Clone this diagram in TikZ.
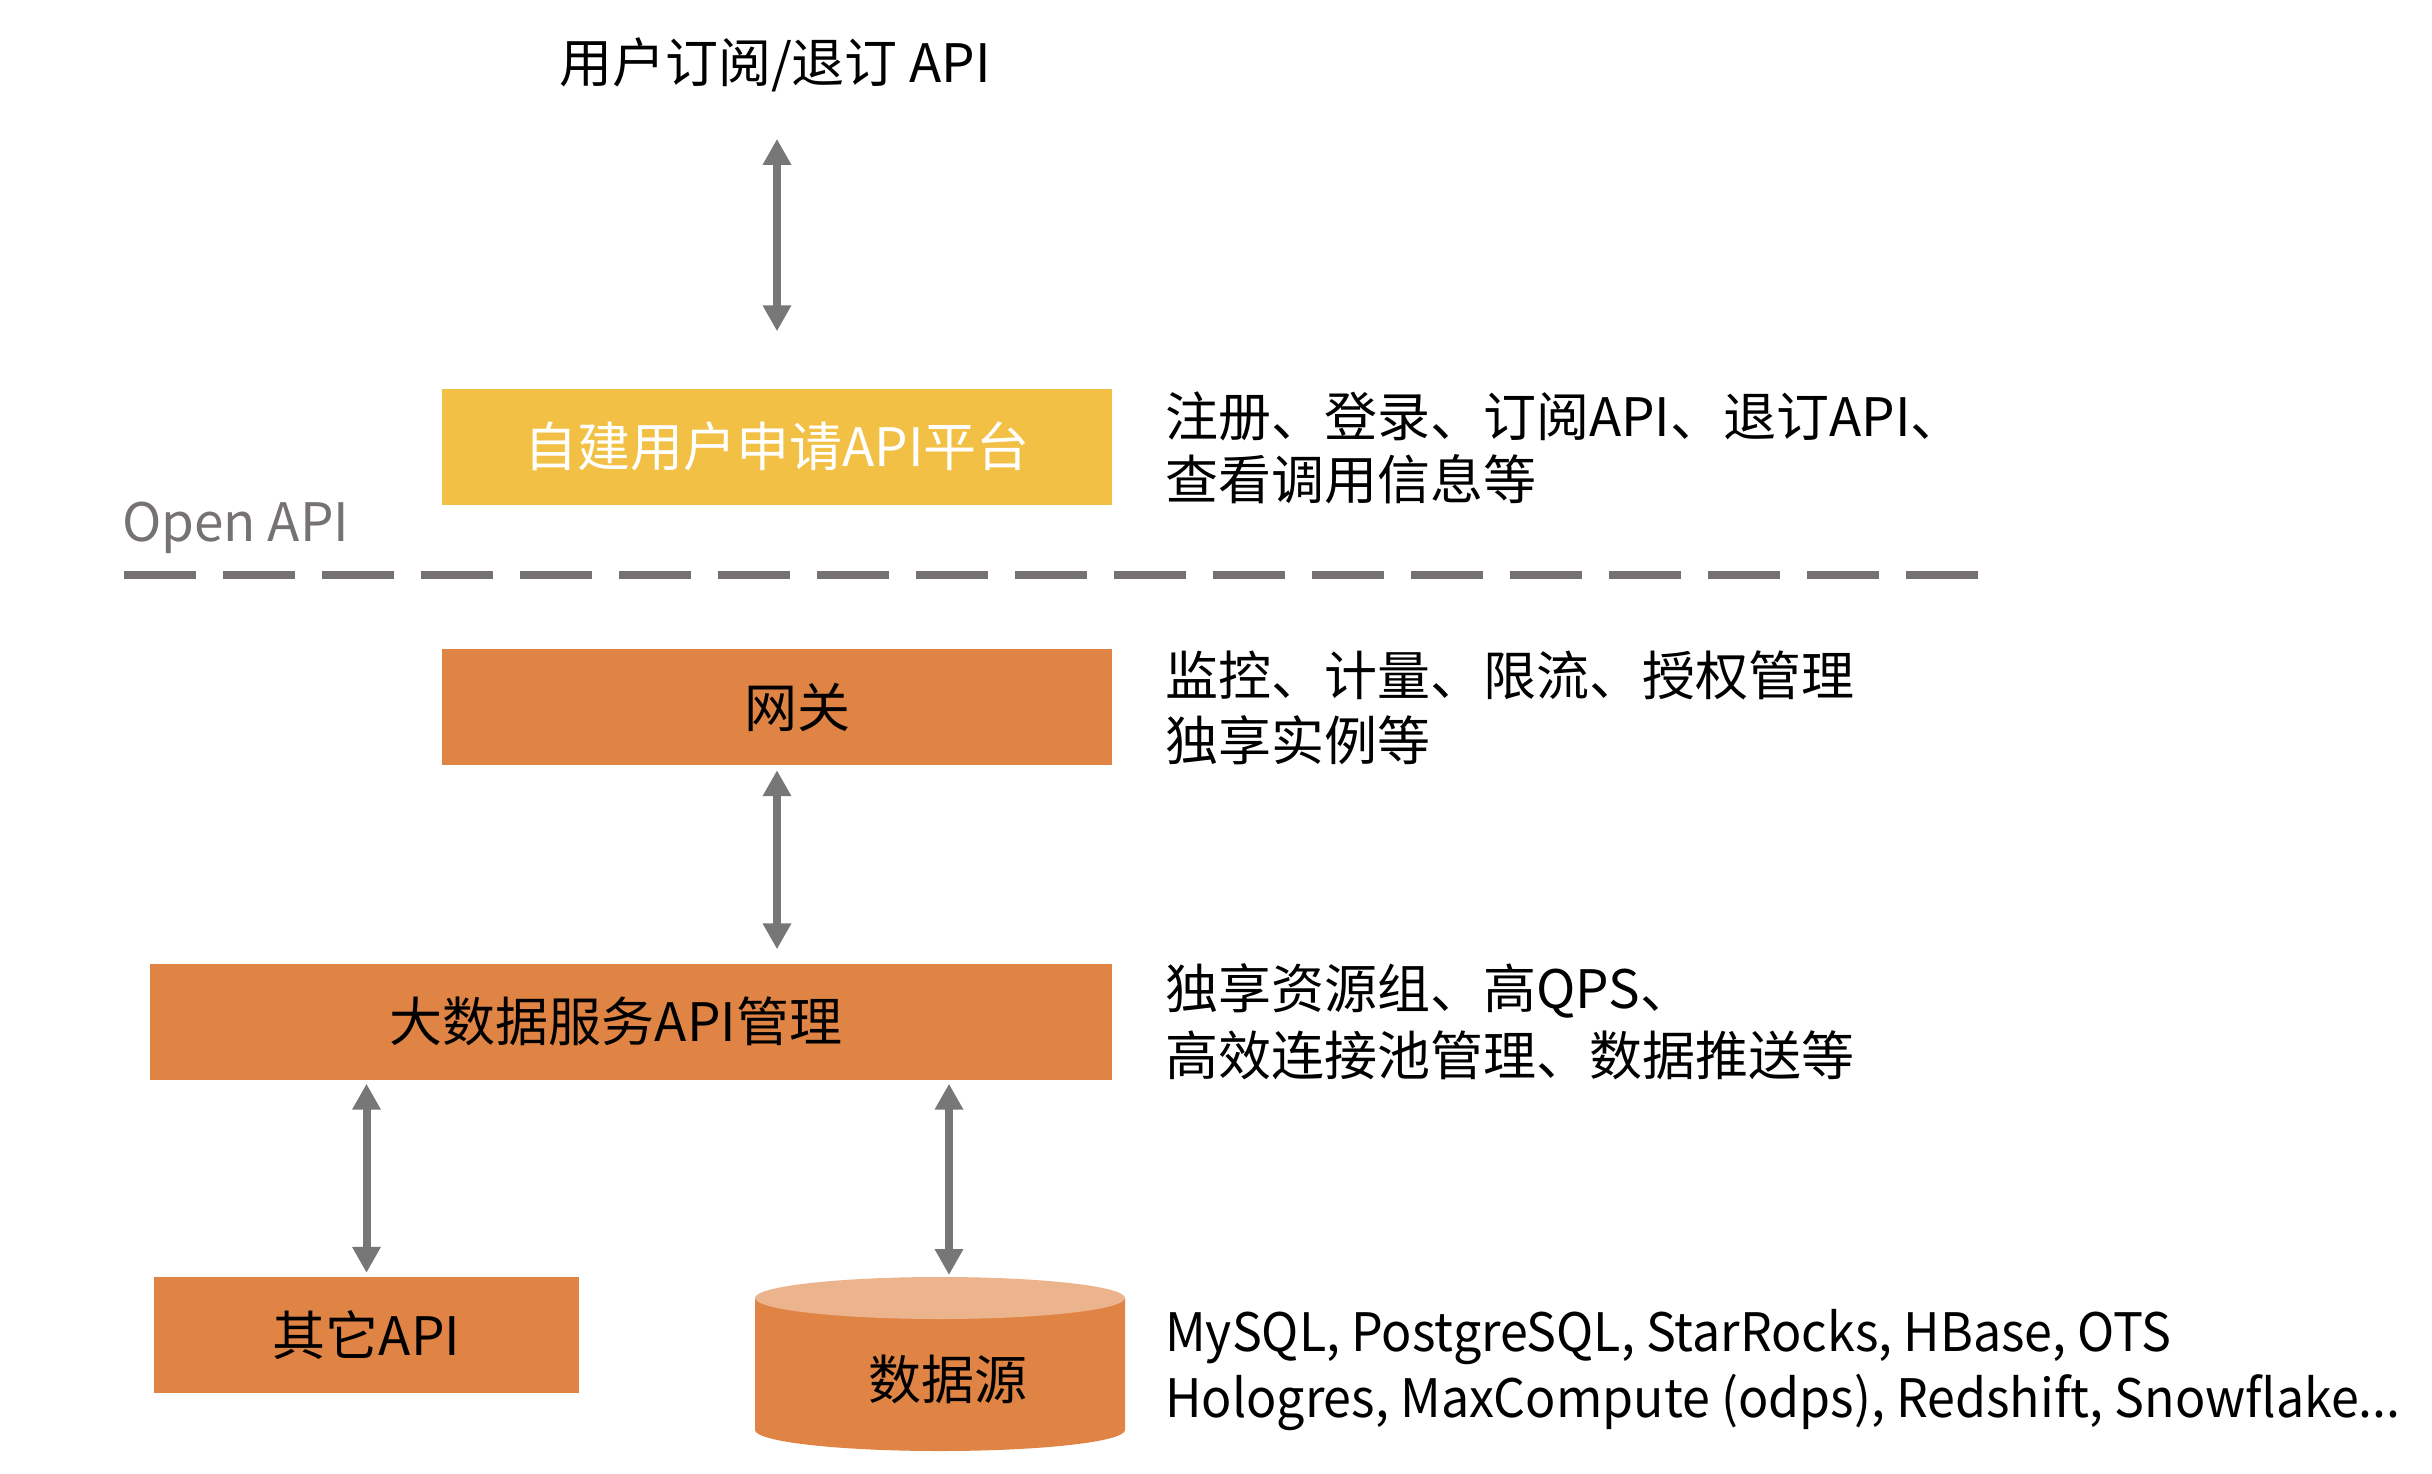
\documentclass[tikz,border=0pt]{standalone}
\usepackage{fontspec}
\usepackage{graphicx}
\setmainfont{Noto Sans CJK SC}
\usetikzlibrary{arrows.meta,calc}
\definecolor{cyellow}{HTML}{F2C045}
\definecolor{corange}{HTML}{E08445}
\definecolor{ctop}{HTML}{EBB48C}
\definecolor{carrow}{HTML}{777777}
\definecolor{cdash}{HTML}{767272}
\begin{document}
\begin{tikzpicture}[x=1pt,y=-1pt,
  font=\fontsize{53}{63}\selectfont,
  tx/.style={inner sep=0pt, text height=47pt, text depth=6.4pt},
  box/.style={tx, minimum width=#1, minimum height=116pt},
  dbl/.style={draw=carrow, line width=8pt,
    {Triangle[width=27pt,length=26pt]}-{Triangle[width=27pt,length=26pt]}},
  dashline/.style={draw=cdash, line width=8pt, dash pattern=on 72pt off 27pt},
  rtext/.style={tx, anchor=west}]
\useasboundingbox[fill=white] (0,0) rectangle (2432,1474);

% title
\node[tx] (title) at (775,62) {用户订阅/退订 API};

% boxes
\node[box=670pt, fill=cyellow, text=white] (plat) at (777,446.5) {自建用户申请API平台};
\node[box=670pt, fill=corange] (gw) at (777,707) {网关\hspace*{-40pt}};
\node[box=962pt, fill=corange] (big) at (631,1021.5) {\hspace*{-30pt}大数据服务API管理};
\node[box=425pt, fill=corange] (other) at (366.5,1335) {其它API};

% cylinder
\fill[corange] (755,1298) -- (755,1430) arc[start angle=180, end angle=360, x radius=185, y radius=-21] -- (1125,1298) -- cycle;
\fill[ctop] (940,1298) ellipse[x radius=185, y radius=21];
\coordinate (cyltop) at (949,1277);
\node[tx] (ds) at (948,1379) {数据源};

% Open API + dashed line
\node[tx, anchor=west, text=cdash] (open) at (122,521) {Open API};
\coordinate (dl1) at (124,575);
\coordinate (dl2) at (1978,575);
\draw[dashline] (dl1) -- (dl2);

% arrows
\draw[dbl, shorten <=50pt, shorten >=57pt] (title.south -| plat.north) -- (plat.north);
\draw[dbl, shorten <=5pt, shorten >=14pt] (gw.south) -- (gw.south |- big.north);
\draw[dbl, shorten <=4pt, shorten >=4pt] (other.north |- big.south) -- (other.north);
\draw[dbl, shorten <=4pt, shorten >=2pt] (cyltop |- big.south) -- (cyltop);

% right-hand texts
\node[rtext] (r1a) at (1165,416) {注册、登录、订阅API、退订API、};
\node[rtext] (r1b) at (1165,479) {查看调用信息等};
\node[rtext] (r2a) at (1165,675) {监控、计量、限流、授权管理};
\node[rtext] (r2b) at (1165,740) {独享实例等};
\node[rtext] (r3a) at (1165,988) {独享资源组、高QPS、};
\node[rtext] (r3b) at (1165,1055) {高效连接池管理、数据推送等};
\node[rtext] (r4a) at (1165,1331) {\scalebox{0.946}[1]{MySQL, PostgreSQL, StarRocks, HBase, OTS}};
\node[rtext] (r4b) at (1165,1397) {\scalebox{0.946}[1]{Hologres, MaxCompute (odps), Redshift, Snowflake...}};
\end{tikzpicture}
\end{document}
